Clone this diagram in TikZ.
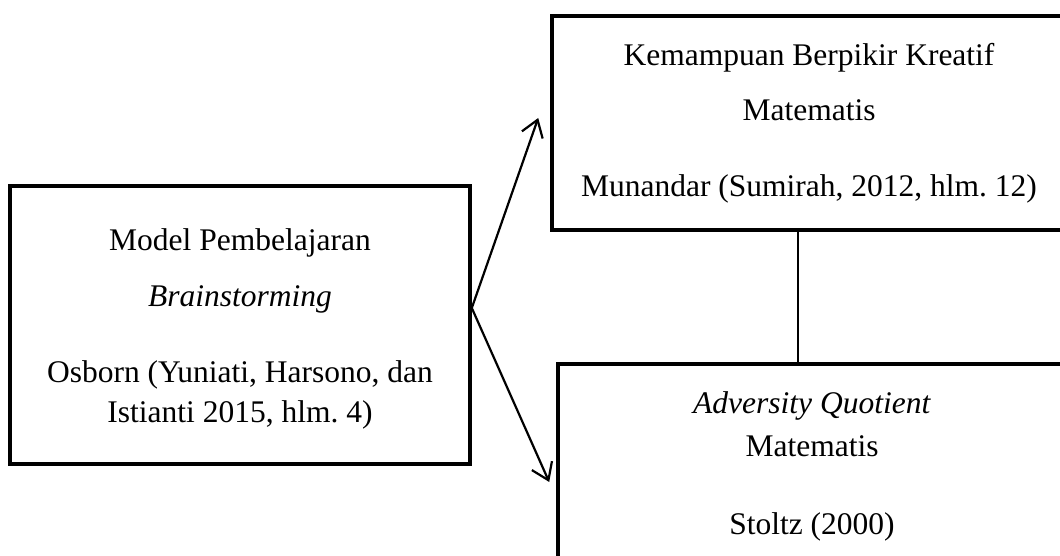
\documentclass[tikz,border=0pt]{standalone}
\usepackage{fontspec}
\setmainfont{Liberation Serif}
\usetikzlibrary{arrows.meta}
\frenchspacing

\begin{document}
\begin{tikzpicture}[x=1pt, y=-1pt,
    box/.style={draw, line width=3.6pt, inner sep=0pt},
    txt/.style={inner sep=0pt, anchor=base, font=\fontsize{31.5}{38}\selectfont},
    link/.style={line width=2.2pt},
    arr/.style={line width=2.2pt, -{Straight Barb[length=16pt, width=22pt, line width=2.2pt]}}]
    \useasboundingbox (0,0) rectangle (1060,556);

    % Left box
    \node[box, minimum width=460pt, minimum height=278pt] (model) at (240,325) {};
    \node[txt] (model1) at (240,251) {Model Pembelajaran};
    \node[txt] (model2) at (240,306) {\textit{Brainstorming}};
    \node[txt] (model3) at (240,382) {Osborn (Yuniati, Harsono, dan};
    \node[txt] (model4) at (240,422) {Istianti 2015, hlm. 4)};

    % Top right box
    \node[box, minimum width=528pt, minimum height=214pt] (kreatif) at (816,123) {};
    \node[txt] (kreatif1) at (809,66) {Kemampuan Berpikir Kreatif};
    \node[txt] (kreatif2) at (809,121) {Matematis};
    \node[txt] (kreatif3) at (809,197) {Munandar (Sumirah, 2012, hlm. 12)};

    % Bottom right box
    \node[box, minimum width=522pt, minimum height=236pt] (aq) at (819,482) {};
    \node[txt] (aq1) at (812,413) {\textit{Adversity Quotient}};
    \node[txt] (aq2) at (812,456) {Matematis};
    \node[txt] (aq3) at (812,534) {Stoltz (2000)};

    % Connectors
    \coordinate (mid) at (798,300);
    \draw[link] (mid |- kreatif.south) -- (mid |- aq.north);
    \draw[arr] ([yshift=17pt]model.east) -- ([xshift=-12pt,yshift=5pt]kreatif.west);
    \draw[arr] ([yshift=17pt]model.east) -- ([xshift=-7pt]aq.west);
\end{tikzpicture}
\end{document}
